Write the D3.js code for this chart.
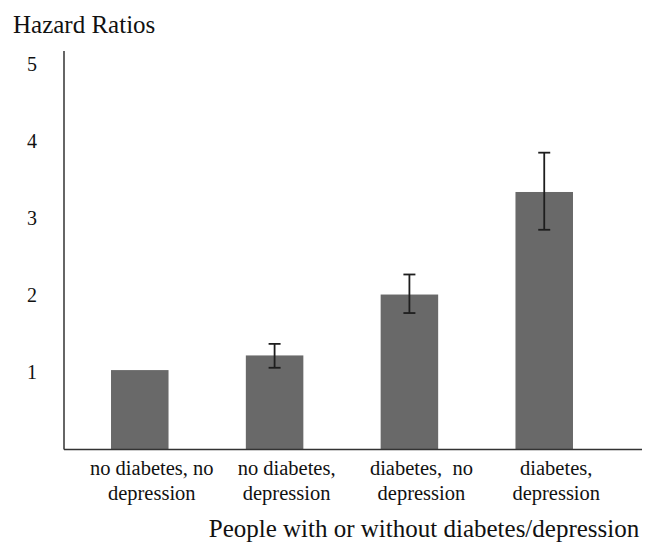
<!DOCTYPE html>
<html>
<head>
<meta charset="utf-8">
<script src="https://cdn.jsdelivr.net/npm/d3@7/dist/d3.min.js"></script>
<style>
  html, body { margin: 0; padding: 0; background: #fff; }
  svg { display: block; }
  text { font-family: "Liberation Serif", "Times New Roman", serif; fill: #111; }
</style>
</head>
<body>
<svg id="chart" width="651" height="544"></svg>
<script>
const categoryLines = [
  ["no diabetes, no", "depression"],
  ["no diabetes,", "depression"],
  ["diabetes,  no", "depression"],
  ["diabetes,", "depression"]
];
const categories = ["no diabetes, no depression", "no diabetes, depression", "diabetes, no depression", "diabetes, depression"];
const hazardRatios = [1.03, 1.22, 2.01, 3.34];
const ciLower = [null, 1.06, 1.77, 2.85];
const ciUpper = [null, 1.37, 2.27, 3.85];
const yTicks = [1, 2, 3, 4, 5];
const yTitle = "Hazard Ratios";
const xTitle = "People with or without diabetes/depression";

const svg = d3.select("#chart");
const x0 = 64, x1 = 642, yTop = 51, yBase = 449.5;

const x = d3.scaleBand()
  .domain(categories)
  .range([64, 620])
  .paddingInner(0.5734)
  .paddingOuter(0.3487);

const y = d3.scaleLinear().domain([0, 5]).range([yBase, yBase - 5 * 77.1]);

// bars
svg.selectAll("rect.bar")
  .data(categories)
  .enter().append("rect")
  .attr("class", "bar")
  .attr("x", d => x(d))
  .attr("width", x.bandwidth())
  .attr("y", (d, i) => y(hazardRatios[i]))
  .attr("height", (d, i) => y(0) - y(hazardRatios[i]))
  .attr("fill", "#696969");

// error bars
const errData = categories.map((c, i) => ({ c, lo: ciLower[i], hi: ciUpper[i] })).filter(d => d.lo !== null);
const eg = svg.append("g").attr("stroke", "#1e1e1e").attr("stroke-width", 1.8);
errData.forEach(d => {
  const cx = x(d.c) + x.bandwidth() / 2;
  eg.append("line").attr("x1", cx).attr("x2", cx).attr("y1", y(d.lo)).attr("y2", y(d.hi));
  eg.append("line").attr("x1", cx - 6).attr("x2", cx + 6).attr("y1", y(d.lo)).attr("y2", y(d.lo));
  eg.append("line").attr("x1", cx - 6).attr("x2", cx + 6).attr("y1", y(d.hi)).attr("y2", y(d.hi));
});

// axes lines
svg.append("line").attr("x1", x0).attr("x2", x0).attr("y1", yTop).attr("y2", yBase)
  .attr("stroke", "#333").attr("stroke-width", 1.5);
svg.append("line").attr("x1", x0).attr("x2", x1).attr("y1", yBase).attr("y2", yBase)
  .attr("stroke", "#333").attr("stroke-width", 1.5);

// y tick labels
svg.selectAll("text.ytick")
  .data(yTicks)
  .enter().append("text")
  .attr("class", "ytick")
  .attr("x", 32)
  .attr("y", d => y(d))
  .attr("dy", "0.35em")
  .attr("text-anchor", "middle")
  .attr("font-size", 20)
  .text(d => d);

// x category labels
categories.forEach((c, i) => {
  const cx = x(c) + x.bandwidth() / 2 + 12;
  const t = svg.append("text")
    .attr("text-anchor", "middle")
    .attr("font-size", 20.5)
    .attr("xml:space", "preserve")
    .style("white-space", "pre");
  categoryLines[i].forEach((line, j) => {
    t.append("tspan").attr("x", cx).attr("y", 475 + j * 25).text(line);
  });
});

// titles
svg.append("text").attr("x", 13).attr("y", 33).attr("font-size", 25).text(yTitle);
svg.append("text").attr("x", 424).attr("y", 537).attr("text-anchor", "middle").attr("font-size", 25).text(xTitle);
</script>
</body>
</html>
